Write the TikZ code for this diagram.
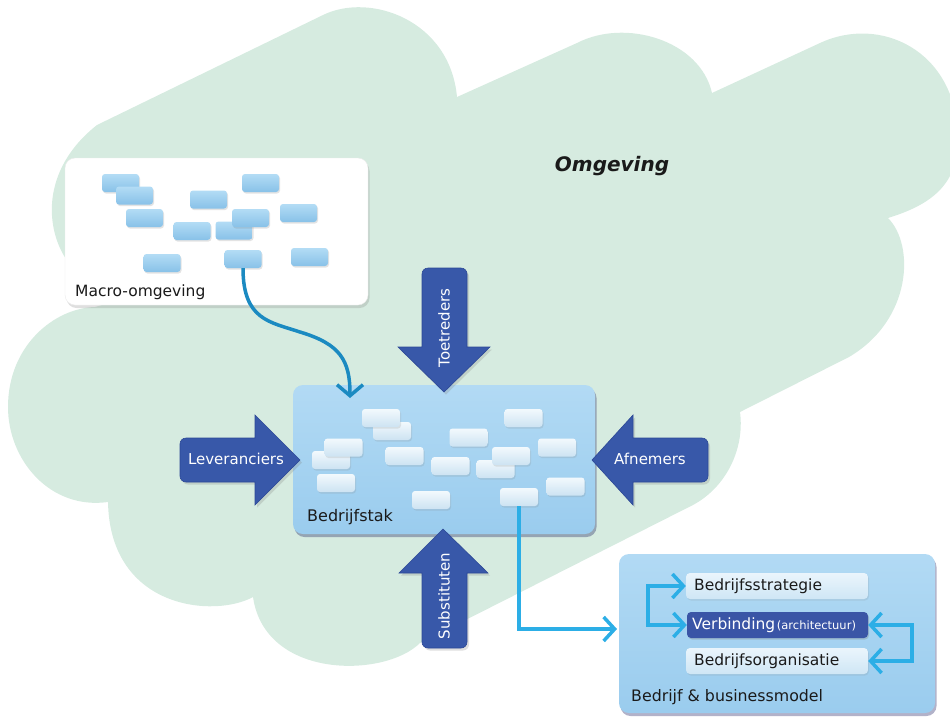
\documentclass[tikz,border=0pt]{standalone}
\usepackage{fontspec}
\setmainfont{DejaVu Sans}
\usetikzlibrary{arrows.meta,shadows,shadings}
\definecolor{cloudc}{HTML}{D6EBE0}
\definecolor{mtop}{HTML}{B3DCF5}
\definecolor{mbot}{HTML}{88C1E8}
\definecolor{wtop}{HTML}{F2F9FD}
\definecolor{wbot}{HTML}{CDE3F2}
\definecolor{staktop}{HTML}{B2DAF4}
\definecolor{stakbot}{HTML}{9ACCEE}
\definecolor{arrowc}{HTML}{3858A9}
\definecolor{arrowedge}{HTML}{2C4896}
\definecolor{mconnc}{HTML}{1B8AC1}
\definecolor{cyanc}{HTML}{2CAEE6}
\definecolor{verbc}{HTML}{3A55A6}
\definecolor{innertop}{HTML}{EAF5FC}
\definecolor{innerbot}{HTML}{CFE6F5}
\definecolor{txt}{HTML}{1A1A1A}
\tikzset{
  mrect/.style={rectangle, rounded corners=3pt, minimum width=37pt, minimum height=18pt, inner sep=0pt,
    top color=mtop, bottom color=mbot, drop shadow={opacity=.22, shadow xshift=1pt, shadow yshift=-1.5pt}},
  wrect/.style={rectangle, rounded corners=3pt, minimum width=38pt, minimum height=18pt, inner sep=0pt,
    top color=wtop, bottom color=wbot, drop shadow={opacity=.18, shadow xshift=1pt, shadow yshift=-1.5pt}},
  stakbox/.style={rectangle, rounded corners=10pt, inner sep=0pt, top color=staktop, bottom color=stakbot,
    drop shadow={opacity=.3, fill=blue!30!black, shadow xshift=1.5pt, shadow yshift=-3pt}},
  macrobox/.style={rectangle, rounded corners=10pt, inner sep=0pt, fill=white, draw=black!8,
    drop shadow={opacity=.25, shadow xshift=1.5pt, shadow yshift=-3pt}},
  innerbox/.style={rectangle, rounded corners=4pt, inner sep=0pt, minimum width=182pt, minimum height=26pt,
    top color=innertop, bottom color=innerbot, drop shadow={opacity=.15, shadow xshift=1pt, shadow yshift=-1.5pt}},
  verbbox/.style={rectangle, rounded corners=4pt, inner sep=0pt, minimum width=181pt, minimum height=26pt,
    fill=verbc, drop shadow={opacity=.3, shadow xshift=1pt, shadow yshift=-1.5pt}},
  bigarrow/.style={fill=arrowc, draw=arrowedge, line width=0.6pt,
    drop shadow={opacity=.25, shadow xshift=2pt, shadow yshift=-2.5pt}},
  lbl/.style={text=txt, inner sep=0pt, font=\fontsize{15.5}{18}\selectfont},
  wlbl/.style={text=white, inner sep=0pt, font=\fontsize{15}{18}\selectfont},
  mconn/.style={draw=mconnc, line width=3.5pt, -{Straight Barb[length=11pt,width=26pt]}},
  cconn/.style={draw=cyanc, line width=3.5pt, -{Straight Barb[length=11pt,width=24pt]}},
  bracket/.style={draw=cyanc, line width=3.5pt, {Straight Barb[length=11pt,width=24pt]}-{Straight Barb[length=11pt,width=24pt]}},
}
\begin{document}
\begin{tikzpicture}[x=1pt,y=-1pt]
\useasboundingbox (0,0) rectangle (950,716);
\begin{scope}
\clip (0,0) rectangle (950,716);
\fill[cloudc] (97,125) -- (323,15)
  .. controls (370,-8) and (450,20) .. (457,97)
  -- (577,43)
  .. controls (625,18) and (700,40) .. (712,93)
  -- (820,43)
  .. controls (880,15) and (955,50) .. (958,135)
  .. controls (960,185) and (930,205) .. (888,218)
  .. controls (915,245) and (912,320) .. (849,357)
  -- (740,412)
  .. controls (745,450) and (725,490) .. (689,507)
  -- (420,643)
  .. controls (385,678) and (265,680) .. (253,597)
  .. controls (215,618) and (110,610) .. (108,502)
  .. controls (50,510) and (8,460) .. (8,407)
  .. controls (8,345) and (55,308) .. (95,307)
  -- (120,300) -- (68,262)
  .. controls (45,230) and (40,170) .. (97,125) -- cycle;
\end{scope}

% Omgeving label
\node[text=txt, inner sep=0pt, font=\fontsize{20}{24}\selectfont\bfseries\itshape] (omg) at (612,166) {Omgeving};

% Macro-omgeving box
\node[macrobox, minimum width=303pt, minimum height=147pt] (macro) at (216.5,231.5) {};
\node[mrect] (m1) at (120.5,183) {};
\node[mrect] (m2) at (134.5,195.5) {};
\node[mrect] (m3) at (208.5,199.5) {};
\node[mrect] (m4) at (260.5,183) {};
\node[mrect] (m5) at (144.5,218) {};
\node[mrect] (m9) at (234,230.5) {};
\node[mrect] (m6) at (250.5,218) {};
\node[mrect] (m7) at (298.5,213) {};
\node[mrect] (m8) at (192,231) {};
\node[mrect] (m10) at (162,263) {};
\node[mrect] (m11) at (243,259) {};
\node[mrect] (m12) at (309.5,257) {};
\node[lbl, anchor=base west] (macrolbl) at (75,296) {Macro-omgeving};

% Bedrijfstak box
\node[stakbox, minimum width=302pt, minimum height=149pt] (stak) at (444,459.5) {};
\node[wrect] (b2) at (392,431) {};
\node[wrect] (b1) at (381,418) {};
\node[wrect] (b4) at (331,460) {};
\node[wrect] (b3) at (343.5,447.5) {};
\node[wrect] (b5) at (336,483) {};
\node[wrect] (b6) at (404.5,456) {};
\node[wrect] (b7) at (468.5,437.5) {};
\node[wrect] (b8) at (450.5,466) {};
\node[wrect] (b9) at (523.5,418) {};
\node[wrect] (b11) at (495.5,469) {};
\node[wrect] (b10) at (511,456) {};
\node[wrect] (b12) at (557,447.5) {};
\node[wrect] (b13) at (565.5,486.5) {};
\node[wrect] (b14) at (431,500) {};
\node[wrect] (b15) at (519,497) {};
\node[lbl, anchor=base west, font=\fontsize{16}{18}\selectfont] (staklbl) at (307,521) {Bedrijfstak};

% Bedrijf & businessmodel box
\node[stakbox, minimum width=316pt, minimum height=159pt] (bm) at (777,633.5) {};
\node[innerbox] (strat) at (777,586) {};
\node[lbl, anchor=west, font=\fontsize{15.5}{18}\selectfont] (strattxt) at (694,586) {Bedrijfsstrategie};
\node[verbbox] (verb) at (777.5,625) {};
\node[anchor=west, text=white, inner sep=0pt] (verbtxt) at (692,625) {{\fontsize{15.5}{18}\selectfont Verbinding}\,{\fontsize{11.5}{12}\selectfont(architectuur)}};
\node[innerbox] (org) at (777,661) {};
\node[lbl, anchor=west, font=\fontsize{15.5}{18}\selectfont] (orgtxt) at (694,661) {Bedrijfsorganisatie};
\node[lbl, anchor=base west, font=\fontsize{15.8}{18}\selectfont] (bmlbl) at (631,701) {Bedrijf \& businessmodel};

% brackets
\draw[bracket] (strat.west) -- ++(-38,0) |- (verb.west);
\draw[bracket] (verb.east) -- ++(44,0) |- (org.east);

% big arrows
\fill[bigarrow] (255,438) -- (255,415) -- (300,460) -- (255,505) -- (255,482) [rounded corners=6pt] -- (180,482) -- (180,438) [sharp corners] -- (255,438) -- cycle;
\node[wlbl] (lev) at (236,459) {Leveranciers};
\fill[bigarrow] (633,438) -- (633,415) -- (592,460) -- (633,505) -- (633,482) [rounded corners=6pt] -- (708,482) -- (708,438) [sharp corners] -- (633,438) -- cycle;
\node[wlbl] (afn) at (650,459) {Afnemers};
\fill[bigarrow] (422,347) -- (398,347) -- (444,392) -- (490,347) -- (467,347) [rounded corners=6pt] -- (467,268) -- (422,268) [sharp corners] -- (422,347) -- cycle;
\node[wlbl, rotate=90] (toe) at (444,328) {Toetreders};
\fill[bigarrow] (422,573) -- (399,573) -- (443,529) -- (488,573) -- (467,573) [rounded corners=6pt] -- (467,648) -- (422,648) [sharp corners] -- (422,573) -- cycle;
\node[wlbl, rotate=90] (sub) at (444,596) {Substituten};

% connectors
\coordinate (stakin) at (350,398);
\draw[mconn] (m11.south) .. controls (243,320) and (270,322) .. (300,332) .. controls (340,344) and (350,360) .. (stakin);
\coordinate (bmin) at (617,629);
\draw[cconn] (b15.south) |- (bmin);
\end{tikzpicture}
\end{document}
